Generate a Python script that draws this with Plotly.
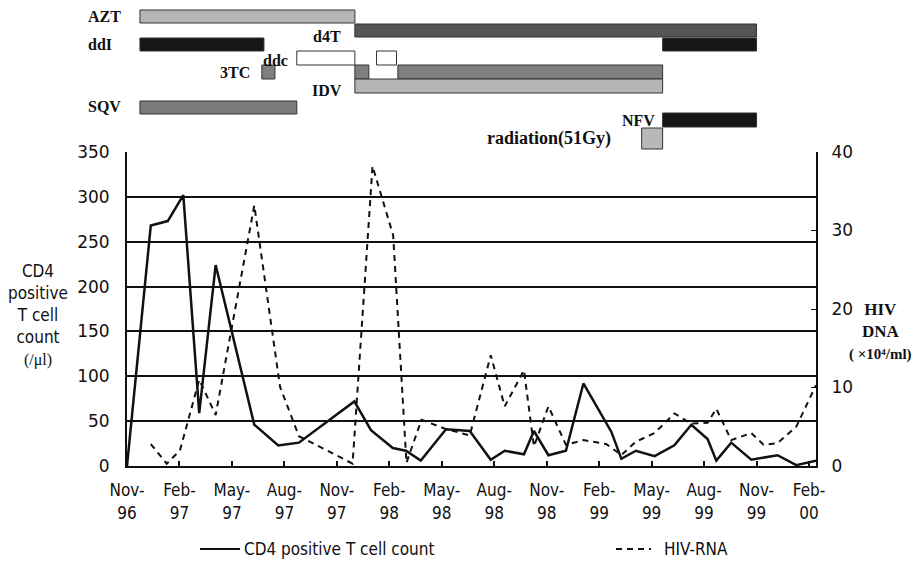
import plotly.graph_objects as go

# ---- data (months since Nov-1996) ----
cd4_month = [0, 1.36, 2.33, 3.22, 4.13, 5.07, 7.28, 8.65, 9.83, 13.0, 13.95, 15.2, 15.95, 16.8,
             18.24, 19.6, 20.8, 21.6, 22.7, 23.27, 24.1, 25.1, 26.1, 27.7, 28.27, 29.1, 30.17,
             31.3, 32.27, 33.2, 33.7, 34.55, 35.7, 37.2, 38.27, 39.4]
cd4_value = [0, 268, 273, 302, 59, 224, 46, 23, 26, 72, 40, 20, 17, 6,
             41, 39, 7, 17, 13, 39, 12, 17, 92, 38, 8, 17, 11,
             23, 46, 30, 6, 26, 7, 12, 1, 6]

hiv_month = [1.36, 2.27, 3.03, 4.13, 5.07, 7.28, 8.75, 9.83, 12.9, 13.7, 14.04, 15.22, 15.98,
             16.84, 18.24, 19.6, 20.8, 21.6, 22.7, 23.27, 24.1, 25.1, 26.1, 27.4, 28.27, 29.1,
             30.17, 31.3, 32.27, 33.2, 33.7, 34.55, 35.7, 36.4, 37.2, 38.27, 39.4]
hiv_value = [2.8, 0.3, 2.0, 11.0, 6.5, 33.2, 10.1, 3.8, 0.3, 26.9, 38.2, 29.4, 0.4,
             5.9, 4.7, 3.9, 14.1, 7.6, 12.2, 2.5, 7.6, 2.7, 3.3, 2.8, 1.4, 3.1,
             4.2, 6.7, 5.4, 5.5, 7.3, 3.3, 4.2, 2.7, 2.9, 5.0, 10.3]

tick_months = [0, 3, 6, 9, 12, 15, 18, 21, 24, 27, 30, 33, 36, 39]
tick_labels = ["Nov-<br>96", "Feb-<br>97", "May-<br>97", "Aug-<br>97", "Nov-<br>97",
               "Feb-<br>98", "May-<br>98", "Aug-<br>98", "Nov-<br>98", "Feb-<br>99",
               "May-<br>99", "Aug-<br>99", "Nov-<br>99", "Feb-<br>00"]

# drug treatment periods (start, end) in months
azt_periods = [(0.74, 13.03)]
d4t_periods = [(13.03, 36.0)]
ddi_periods = [(0.74, 7.83), (30.63, 36.0)]
ddc_periods = [(9.71, 13.03), (14.27, 15.41)]
tc3_periods = [(7.71, 8.46), (13.03, 13.83), (15.49, 30.63)]
idv_periods = [(13.03, 30.63)]
sqv_periods = [(0.74, 9.71)]
nfv_periods = [(30.63, 36.0)]
rad_periods = [(29.43, 30.63)]

# ---- layout geometry ----
W, H = 920, 563
L, R, T, B = 127, 816, 152, 466


def py2p(py):
    return (B - py) / (B - T)


def px2p(px):
    return (px - L) / (R - L)


fig = go.Figure()
fig.add_trace(go.Scatter(x=cd4_month, y=cd4_value, mode="lines", name="CD4 positive T cell count",
                         line=dict(color="#111", width=2.5), yaxis="y"))
fig.add_trace(go.Scatter(x=hiv_month, y=hiv_value, mode="lines", name="HIV-RNA",
                         line=dict(color="#111", width=2, dash="6px,5px"), yaxis="y2"))

shapes = []
rows = [
    (azt_periods, 10, 23, "#b5b5b5"),
    (d4t_periods, 24, 37, "#555555"),
    (ddi_periods, 38, 51, "#161616"),
    (ddc_periods, 51, 65, "#ffffff"),
    (tc3_periods, 65, 79, "#7f7f7f"),
    (idv_periods, 79, 93, "#b5b5b5"),
    (sqv_periods, 101, 114, "#7a7a7a"),
    (nfv_periods, 113, 127, "#161616"),
    (rad_periods, 128, 149, "#b8b8b8"),
]
for periods, y0, y1, col in rows:
    for s, e in periods:
        shapes.append(dict(type="rect", xref="x", yref="paper", x0=s, x1=e,
                           y0=py2p(y1), y1=py2p(y0), fillcolor=col,
                           line=dict(color="#333", width=1), layer="above"))

# manual legend
shapes.append(dict(type="line", xref="paper", yref="paper", x0=px2p(200), x1=px2p(240),
                   y0=py2p(549), y1=py2p(549), line=dict(color="#111", width=2)))
shapes.append(dict(type="line", xref="paper", yref="paper", x0=px2p(616), x1=px2p(651),
                   y0=py2p(549), y1=py2p(549), line=dict(color="#111", width=2, dash="6px,5px")))

serif = "Liberation Serif"
labels = [("AZT", 86, 16, 16), ("ddI", 86, 44, 16), ("d4T", 311, 36, 16), ("ddc", 261, 60, 16),
          ("3TC", 218, 73, 16), ("IDV", 310, 90, 16), ("SQV", 86, 107, 16), ("NFV", 620, 121, 16),
          ("radiation(51Gy)", 485, 139, 18)]
annotations = []
for txt, lx, cy, fs in labels:
    annotations.append(dict(text="<b>%s</b>" % txt, xref="paper", yref="paper", x=px2p(lx),
                            y=py2p(cy), xanchor="left", yanchor="middle", showarrow=False,
                            font=dict(family=serif, size=fs, color="#111")))

annotations.append(dict(text="CD4<br>positive<br>T cell<br>count<br><span style='font-family:Liberation Serif;font-size:16px'>(/μl)</span>",
                        xref="paper", yref="paper", x=px2p(38), y=py2p(315), xanchor="center",
                        yanchor="middle", showarrow=False, align="center",
                        font=dict(family="DejaVu Sans Condensed", size=17, color="#111")))
annotations.append(dict(text="<b>HIV<br>DNA<br><span style='font-size:15px'>( ×10⁴/ml)</span></b>",
                        xref="paper", yref="paper", x=px2p(880), y=py2p(331), xanchor="center",
                        yanchor="middle", showarrow=False, align="center",
                        font=dict(family=serif, size=17, color="#111")))
annotations.append(dict(text="CD4 positive T cell count", xref="paper", yref="paper",
                        x=px2p(242), y=py2p(549), xanchor="left", yanchor="middle",
                        showarrow=False, font=dict(family="DejaVu Sans Condensed", size=17, color="#111")))
annotations.append(dict(text="HIV-RNA", xref="paper", yref="paper",
                        x=px2p(662), y=py2p(549), xanchor="left", yanchor="middle",
                        showarrow=False, font=dict(family="DejaVu Sans Condensed", size=17, color="#111")))

fig.update_layout(
    width=W, height=H,
    margin=dict(l=L, r=W - R, t=T, b=H - B, pad=0, autoexpand=False),
    paper_bgcolor="white", plot_bgcolor="white",
    font=dict(family="DejaVu Sans", size=16, color="#111"),
    shapes=shapes, annotations=annotations,
    showlegend=False,
    xaxis=dict(range=[0, 39.4], tickvals=tick_months, ticktext=tick_labels,
               ticks="inside", ticklen=5, tickwidth=1.5, tickcolor="#111",
               showline=True, linecolor="#111", linewidth=2, showgrid=False, zeroline=False,
               ticklabelstandoff=8, tickfont=dict(size=17, family="DejaVu Sans Condensed"),
               automargin=False),
    yaxis=dict(range=[0, 350], dtick=50, ticks="inside", ticklen=4, tickcolor="#111",
               showline=True, linecolor="#111", linewidth=2, showgrid=True,
               gridcolor="#111", gridwidth=1.5, zeroline=False, ticklabelstandoff=12,
               tickfont=dict(size=17), automargin=False),
    yaxis2=dict(range=[0, 40], dtick=10, overlaying="y", side="right", ticks="inside",
                ticklen=5, tickcolor="#111", showline=True, linecolor="#111", linewidth=2,
                showgrid=False, zeroline=False, ticklabelstandoff=10, tickfont=dict(size=17),
                automargin=False),
)

fig.write_html("out.html", config={"displayModeBar": False},
               post_script="document.body.style.margin='0';document.body.style.overflow='hidden';")
